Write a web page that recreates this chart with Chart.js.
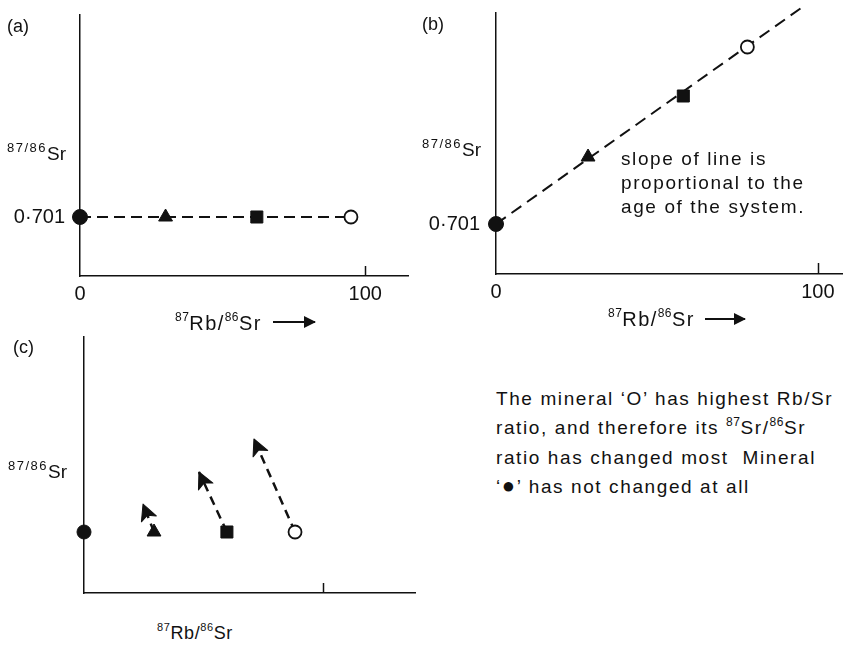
<!DOCTYPE html>
<html><head><meta charset="utf-8">
<script src="https://cdn.jsdelivr.net/npm/chart.js@4.4.1/dist/chart.umd.min.js"></script>
<style>
html,body{margin:0;padding:0;background:#fff;}
body{width:843px;height:650px;position:relative;overflow:hidden;font-family:"Liberation Sans",Arial,sans-serif;color:#111;}
canvas{position:absolute;}
.t{position:absolute;white-space:nowrap;line-height:1;}
.panel{font-size:18px;}
.yl{font-size:19px;}
.yl .s{font-size:13px;letter-spacing:1.5px;position:relative;top:-8px;}
.xl{font-size:20px;letter-spacing:1.4px;}
.xl .s{font-size:12px;position:relative;top:-9px;letter-spacing:0.5px;}
.xc{font-size:18px;letter-spacing:0.6px;}
.xc .s{font-size:11px;position:relative;top:-8px;}
.arr{position:absolute;height:2px;background:#111;}
.arr::after{content:'';position:absolute;right:-1px;top:-5px;border-left:12px solid #111;border-top:6px solid transparent;border-bottom:6px solid transparent;}
.note{position:absolute;white-space:nowrap;font-size:19px;letter-spacing:1.6px;}
.note .s{font-size:12px;position:relative;top:-8px;letter-spacing:0.5px;}
.note .dot{font-size:22px;line-height:0;}
</style>
</head><body>
<canvas id="ca" width="412" height="310" style="left:0;top:0"></canvas>
<canvas id="cb" width="433" height="310" style="left:410px;top:0"></canvas>
<canvas id="cc" width="420" height="300" style="left:0;top:320px"></canvas>

<div class="t panel" style="left:7px;top:17px">(a)</div>
<div class="t panel" style="left:422px;top:15px">(b)</div>
<div class="t panel" style="left:13px;top:338px">(c)</div>

<div class="t yl" style="left:7px;top:144px"><span class="s">87/86</span>Sr</div>
<div class="t yl" style="left:422px;top:140px"><span class="s">87/86</span>Sr</div>
<div class="t yl" style="left:8px;top:462px"><span class="s">87/86</span>Sr</div>

<div class="t xl" style="left:175px;top:313px"><span class="s">87</span>Rb/<span class="s">86</span>Sr</div>
<div class="arr" style="left:273px;top:321px;width:42px"></div>
<div class="t xl" style="left:608px;top:309px"><span class="s">87</span>Rb/<span class="s">86</span>Sr</div>
<div class="arr" style="left:705px;top:318px;width:40px"></div>
<div class="t xc" style="left:157px;top:624px"><span class="s">87</span>Rb/<span class="s">86</span>Sr</div>

<div class="note" style="left:621px;top:147px;line-height:24px">slope of line is<br>proportional to the<br>age of the system.</div>
<div class="note" style="left:496px;top:385px;line-height:28.7px">The mineral ‘O’ has highest Rb/Sr<br>ratio, and therefore its <span class="s">87</span>Sr/<span class="s">86</span>Sr<br>ratio has changed most&nbsp; Mineral<br>‘<span class="dot">●</span>’ has not changed at all</div>

<script>
// ---- data ----
const minerals = ['filled circle', 'triangle', 'square', 'open circle'];
const pointStyles = ['circle', 'triangle', 'rect', 'circle'];
const pointFills = ['#111', '#111', '#111', '#fff'];

// (a) at formation: all minerals share the initial ratio
const rbSrA = [0, 30, 62, 95];
const srSrA = [0.701, 0.701, 0.701, 0.701];

// (b) after some time: isochron
const rbSrB = [0, 28.6, 58.2, 78.1];
const srSrB = [0.701, 0.70234, 0.70356, 0.70454];
const isochronRb = [0, 94.8];
const isochronSr = [0.701, 0.70532];

// (c) evolution arrows
const rbSrC = [0, 29.3, 59.8, 88.3];
const srSrC = [0.701, 0.701, 0.701, 0.701];
const arrowTipRb = [24.7, 48.1, 71.1];
const arrowTipSr = [0.70156, 0.7022, 0.70286];

const xTickValues = [0, 100];
const xTickLabels = ['0', '100'];
const yTickValues = [0.701];
const yTickLabels = ['0·701'];

// ---- drawing ----
const FONT = '"Liberation Sans", Arial, sans-serif';
const INK = '#111';

const inwardTick = {
  id: 'inwardTick',
  afterDraw(chart, args, opts) {
    const {ctx, chartArea} = chart;
    const xs = chart.scales.x;
    ctx.save();
    ctx.strokeStyle = INK; ctx.lineWidth = 1.5;
    (opts.values || []).forEach(v => {
      const px = Math.round(xs.getPixelForValue(v)) + 0.5;
      ctx.beginPath();
      ctx.moveTo(px, chartArea.bottom);
      ctx.lineTo(px, chartArea.bottom - opts.length);
      ctx.stroke();
    });
    ctx.restore();
  }
};

const arrowHeads = {
  id: 'arrowHeads',
  afterDatasetsDraw(chart) {
    const ctx = chart.ctx;
    chart.data.datasets.forEach((ds, i) => {
      if (!ds.arrow) return;
      const pts = chart.getDatasetMeta(i).data;
      const a = pts[0], b = pts[pts.length - 1];
      const ang = Math.atan2(b.y - a.y, b.x - a.x);
      const L = 16, W = 8, N = 12;
      ctx.save();
      ctx.translate(b.x, b.y); ctx.rotate(ang);
      ctx.beginPath();
      ctx.moveTo(0, 0); ctx.lineTo(-L, -W); ctx.lineTo(-N, 0); ctx.lineTo(-L, W);
      ctx.closePath();
      ctx.fillStyle = INK; ctx.fill();
      ctx.lineWidth = 1; ctx.strokeStyle = INK; ctx.lineJoin = 'round'; ctx.stroke();
      ctx.restore();
    });
  }
};

function pts(xs, ys) { return xs.map((x, i) => ({x, y: ys[i]})); }

function markerDataset(xs, ys, radii) {
  return {
    label: 'minerals', data: pts(xs, ys), showLine: false, clip: false,
    pointStyle: pointStyles, pointBackgroundColor: pointFills,
    pointBorderColor: INK, pointBorderWidth: [1, 1, 1, 1.8], pointRadius: radii
  };
}

function makeChart(id, c) {
  return new Chart(document.getElementById(id), {
    type: 'scatter',
    data: {datasets: c.datasets},
    plugins: [inwardTick, arrowHeads],
    options: {
      responsive: false, animation: false, events: [],
      layout: {autoPadding: false, padding: {left: 0, top: c.padTop, right: c.padRight, bottom: 0}},
      plugins: {legend: {display: false}, tooltip: {enabled: false},
                inwardTick: {values: [100], length: c.tickLen}},
      scales: {
        x: {
          type: 'linear', min: 0, max: c.xMax,
          grid: {display: false, drawTicks: false},
          border: {display: true, color: INK, width: 1.5},
          ticks: {display: c.labels, padding: 6, color: INK, font: {family: FONT, size: 20},
                  callback: v => xTickLabels[xTickValues.indexOf(v)]},
          afterBuildTicks: s => { s.ticks = xTickValues.map(v => ({value: v})); },
          afterFit: s => { s.height = c.xHeight; s.paddingLeft = 0; s.paddingRight = 0; }
        },
        y: {
          type: 'linear', min: c.yMin, max: c.yMax,
          grid: {display: false, drawTicks: false},
          border: {display: true, color: INK, width: 1.5},
          ticks: {display: c.labels, padding: c.yPad, color: INK, font: {family: FONT, size: 20},
                  callback: v => yTickLabels[yTickValues.indexOf(v)]},
          afterBuildTicks: s => { s.ticks = yTickValues.map(v => ({value: v})); },
          afterFit: s => { s.width = c.yWidth; s.paddingTop = 0; s.paddingBottom = 0; }
        }
      }
    }
  });
}

// (a)
makeChart('ca', {
  padTop: 15, padRight: 4, xHeight: 34, yWidth: 80, yPad: 15, tickLen: 10, labels: true,
  xMax: 115, yMin: 0.69982, yMax: 0.70504,
  datasets: [Object.assign(markerDataset(rbSrA, srSrA, [7.5, 8, 8.5, 6.5]), {
    showLine: true, borderColor: INK, borderWidth: 2, borderDash: [11, 6]
  })]
});

// (b)
makeChart('cb', {
  padTop: 13, padRight: 1, xHeight: 36, yWidth: 86, yPad: 16, tickLen: 11, labels: true,
  xMax: 107.5, yMin: 0.700, yMax: 0.70522,
  datasets: [
    markerDataset(rbSrB, srSrB, [7.5, 8, 8.5, 6.5]),
    {label: 'isochron', data: pts(isochronRb, isochronSr), showLine: true, clip: false,
     borderColor: INK, borderWidth: 2, borderDash: [12, 7], pointRadius: 0}
  ]
});

// (c)
const arrowSets = arrowTipRb.map((tx, i) => ({
  label: 'evolution of ' + minerals[i + 1], arrow: true,
  data: [{x: rbSrC[i + 1], y: srSrC[i + 1]}, {x: tx, y: arrowTipSr[i]}],
  showLine: true, clip: false, borderColor: INK, borderWidth: 2.5, borderDash: [9, 6], pointRadius: 0
}));
makeChart('cc', {
  padTop: 17, padRight: 5, xHeight: 27, yWidth: 84, yPad: 15, tickLen: 10, labels: false,
  xMax: 138.5, yMin: 0.69978, yMax: 0.7049,
  datasets: [markerDataset(rbSrC, srSrC, [7, 8, 8.5, 6.5])].concat(arrowSets)
});
</script>
</body></html>
